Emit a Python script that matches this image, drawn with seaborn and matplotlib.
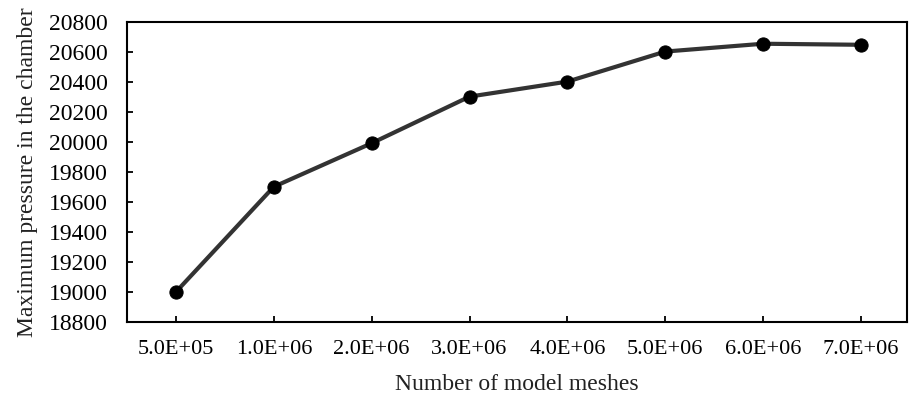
import matplotlib
matplotlib.use("Agg")
import matplotlib.pyplot as plt
import seaborn as sns
import pandas as pd

categories = ["5.0E+05", "1.0E+06", "2.0E+06", "3.0E+06", "4.0E+06", "5.0E+06", "6.0E+06", "7.0E+06"]
pressure = [19000, 19700, 19990, 20300, 20400, 20600, 20652, 20645]
y_ticks = list(range(18800, 20801, 200))

sns.set_theme(style="ticks")
plt.rcParams["font.family"] = ["Liberation Serif", "DejaVu Serif"]

df = pd.DataFrame({"mesh": categories, "pressure": pressure})

fig = plt.figure(figsize=(9.11, 4.03), dpi=100)
ax = fig.add_axes([127 / 911, 1 - 322 / 403, (907 - 127) / 911, (322 - 21.5) / 403])

sns.lineplot(data=df, x="mesh", y="pressure", sort=False, ax=ax,
             color="#333333", linewidth=3.0, marker="o", markersize=9.5,
             markerfacecolor="black", markeredgecolor="black")

ax.set_xlim(-0.5, 7.47)
ax.set_ylim(18800, 20800)
ax.set_yticks(y_ticks)
ax.set_yticklabels([str(v) for v in y_ticks])
ax.set_xlabel("Number of model meshes", fontsize=17, color="#222222", labelpad=11)
ax.set_ylabel("Maximum pressure in the chamber", fontsize=17, color="#222222", labelpad=8)
ax.tick_params(axis="both", direction="in", length=4, width=1.3, colors="black")
ax.tick_params(axis="x", pad=13, labelsize=16)
ax.tick_params(axis="y", pad=13.5, labelsize=17)
for s in ax.spines.values():
    s.set_visible(True)
    s.set_linewidth(1.5)
    s.set_color("black")

fig.savefig("out.png", dpi=100)
